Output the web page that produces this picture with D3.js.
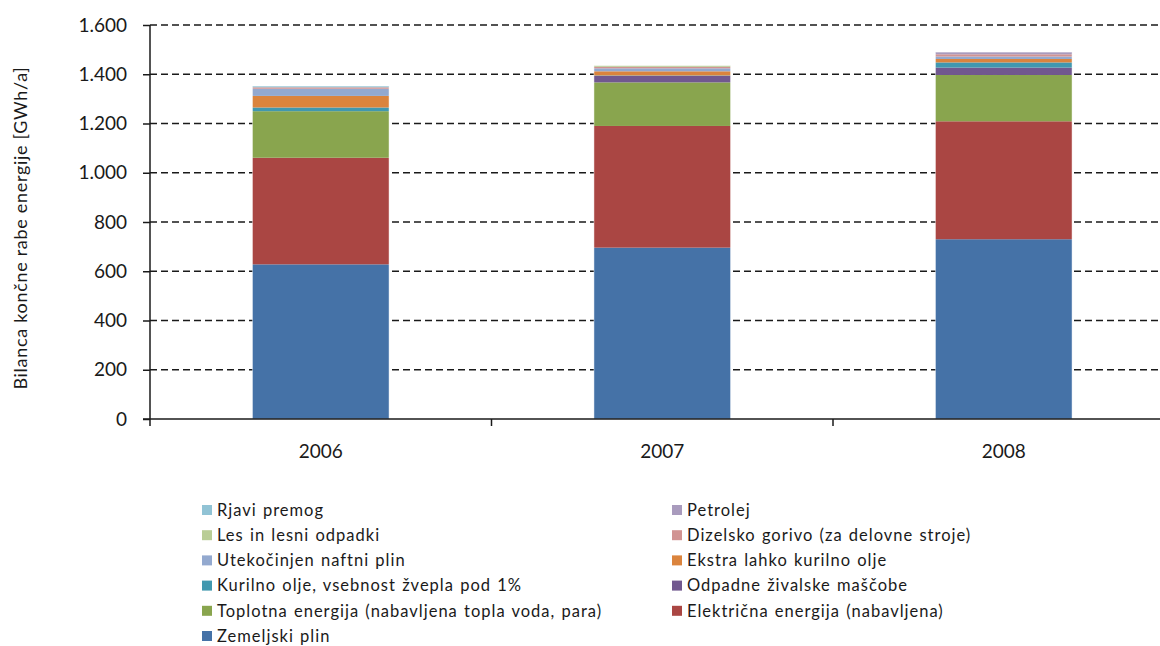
<!DOCTYPE html>
<html>
<head>
<meta charset="utf-8">
<script src="https://cdn.jsdelivr.net/npm/d3@7"></script>
<style>
  html, body { margin: 0; padding: 0; background: #fff; }
  svg { display: block; font-family: Lato, "Open Sans", sans-serif; }
</style>
</head>
<body>
<svg id="chart" width="1160" height="646"></svg>
<script>
// ---- data ----
const years = ["2006", "2007", "2008"];
const seriesNames = [
  "Zemeljski plin",
  "Električna energija (nabavljena)",
  "Toplotna energija (nabavljena topla voda, para)",
  "Odpadne živalske maščobe",
  "Kurilno olje, vsebnost žvepla pod 1%",
  "Ekstra lahko kurilno olje",
  "Utekočinjen naftni plin",
  "Dizelsko gorivo (za delovne stroje)",
  "Les in lesni odpadki",
  "Petrolej",
  "Rjavi premog"
];
const zemeljskiPlin   = [628, 696, 730];
const elektricna      = [433, 494, 479];
const toplotna        = [189, 177, 188];
const odpadneMascobe  = [0, 26, 30];
const kurilnoOlje     = [15, 2, 21];
const ekstraLahko     = [47, 17, 14];
const utekocinjen     = [29, 12, 10];
const dizelsko        = [6, 6, 9];
const lesOdpadki      = [0, 5, 0];
const petrolej        = [0, 0, 9];
const rjaviPremog     = [5, 0, 0];
const seriesValues = [zemeljskiPlin, elektricna, toplotna, odpadneMascobe, kurilnoOlje,
  ekstraLahko, utekocinjen, dizelsko, lesOdpadki, petrolej, rjaviPremog];
const seriesColors = ["#4572A7", "#AA4643", "#89A54E", "#71588F", "#4198AF", "#DB843D",
  "#93A9CF", "#D19392", "#B9CD96", "#A99BBD", "#91C3D5"];
const yTicks = [0, 200, 400, 600, 800, 1000, 1200, 1400, 1600];
const yTickLabels = ["0", "200", "400", "600", "800", "1.000", "1.200", "1.400", "1.600"];
const yTitle = "Bilanca končne rabe energije [GWh/a]";
// legend order (left column, right column interleaved by rows)
const legendOrder = [10, 9, 8, 7, 6, 5, 4, 3, 2, 1, 0];

// ---- build table ----
const table = years.map((y, i) => {
  const row = { year: y };
  seriesNames.forEach((n, k) => row[n] = seriesValues[k][i]);
  return row;
});
const stacked = d3.stack().keys(seriesNames)(table);

const svg = d3.select("#chart");
const plotLeft = 150, plotTop = 25, plotBottom = 419;
const bandStep = 341.5;

const x = d3.scaleBand().domain(years).range([plotLeft, plotLeft + bandStep * years.length]).padding(0);
const y = d3.scaleLinear().domain([0, 1600]).range([plotBottom, plotTop]);
const barW = x.bandwidth() * 0.4;

// gridlines
svg.append("g").selectAll("line").data(yTicks.filter(d => d > 0)).join("line")
  .attr("x1", plotLeft).attr("x2", 1160)
  .attr("y1", d => y(d)).attr("y2", d => y(d))
  .attr("stroke", "#1a1a1a").attr("stroke-width", 1.4)
  .attr("stroke-dasharray", "7,4");

// bars
svg.append("g").selectAll("g").data(stacked).join("g")
  .attr("fill", (d, i) => seriesColors[i])
  .selectAll("rect").data(d => d).join("rect")
  .attr("x", d => x(d.data.year) + (x.bandwidth() - barW) / 2)
  .attr("width", barW)
  .attr("y", d => y(d[1]))
  .attr("height", d => Math.max(0, y(d[0]) - y(d[1])));

// bar edge highlight
svg.append("g").selectAll("rect").data(years).join("rect")
  .attr("x", d => x(d) + (x.bandwidth() - barW) / 2)
  .attr("width", barW)
  .attr("y", (d, i) => y(d3.sum(seriesValues, s => s[i])))
  .attr("height", (d, i) => plotBottom - y(d3.sum(seriesValues, s => s[i])))
  .attr("fill", "none").attr("stroke", "#fff").attr("stroke-opacity", 0.45).attr("stroke-width", 1);

// y axis
const yAxis = d3.axisLeft(y).tickValues(yTicks).tickFormat((d, i) => yTickLabels[i]).tickSize(7).tickPadding(16);
const gy = svg.append("g").attr("transform", `translate(${plotLeft},0)`).call(yAxis);
gy.select(".domain").attr("stroke", "#1a1a1a").attr("stroke-width", 1.5).attr("d", `M0,${plotTop}V${plotBottom}`);
gy.selectAll(".tick line").attr("stroke", "#1a1a1a").attr("stroke-width", 1.5);
gy.selectAll(".tick text").attr("font-size", 19).attr("fill", "#1a1a1a").attr("font-family", "Lato, sans-serif");

// x axis
const gx = svg.append("g").attr("transform", `translate(0,${plotBottom})`)
  .call(d3.axisBottom(x).tickSize(0).tickPadding(26));
gx.select(".domain").attr("stroke", "#1a1a1a").attr("stroke-width", 1.5).attr("d", `M${plotLeft - 7},0H1160`);
gx.selectAll(".tick text").attr("font-size", 19).attr("fill", "#1a1a1a").attr("font-family", "Lato, sans-serif");
// boundary ticks
const bounds = [plotLeft].concat(years.map(yr => x(yr) + x.bandwidth()));
gx.append("g").selectAll("line").data(bounds).join("line")
  .attr("x1", d => d).attr("x2", d => d).attr("y1", 0).attr("y2", 7)
  .attr("stroke", "#1a1a1a").attr("stroke-width", 1.5);

// y title
svg.append("text")
  .attr("transform", "translate(27,228) rotate(-90)")
  .attr("text-anchor", "middle")
  .attr("font-size", 18).attr("fill", "#1a1a1a").attr("letter-spacing", 0.7)
  .text(yTitle);

// legend
const legend = svg.append("g");
const colX = [202, 672];
legendOrder.forEach((k, j) => {
  const col = j % 2, row = Math.floor(j / 2);
  const gx0 = colX[col], gy0 = 510 + row * 25.2;
  const g = legend.append("g").attr("transform", `translate(${gx0},${gy0})`);
  g.append("rect").attr("x", 0).attr("y", -5).attr("width", 10).attr("height", 10).attr("fill", seriesColors[k]);
  g.append("text").attr("x", 15).attr("y", 0).attr("dy", "0.35em")
    .attr("font-size", 16.5).attr("fill", "#1a1a1a")
    .attr("letter-spacing", 1).attr("word-spacing", 1)
    .text(seriesNames[k]);
});
</script>
</body>
</html>
